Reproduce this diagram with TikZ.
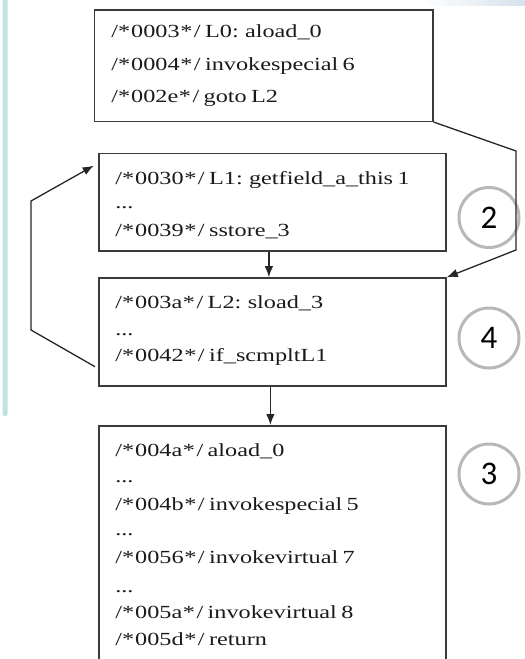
\documentclass[tikz,border=0pt]{standalone}
\usepackage{fontspec}
\setmainfont[WordSpace=0.72]{Liberation Serif}
\newfontfamily\numfont{Carlito}
\usetikzlibrary{arrows.meta,calc}
\definecolor{boxline}{HTML}{3A3A3A}
\definecolor{codetext}{HTML}{1A1A1A}
\definecolor{ringgray}{HTML}{B8B8B8}
\definecolor{sidebar}{HTML}{BFE2E6}
\definecolor{tint}{HTML}{D6E2EC}
% instruction address prefix, e.g. /*0003*/
\newcommand\addr[1]{/*\kern0.8pt#1\kern0.5pt*\kern1.2pt/}
\tikzset{
  block/.style={draw=boxline, line width=1.5pt, inner sep=0pt, anchor=north west, fill=white},
  codeline/.style={anchor=base west, inner sep=0pt, text=codetext, xscale=1.31,
                   font=\fontsize{18.5}{20}\selectfont},
  link/.style={draw=black!85, line width=1.3pt},
  flow/.style={link, -{Latex[length=11pt,width=8.5pt]}},
  badge/.style={circle, draw=ringgray, line width=3pt, minimum size=60pt, inner sep=0pt,
                font=\numfont\fontsize{33}{33}\selectfont, text=black}
}
\begin{document}
\begin{tikzpicture}[x=1pt,y=-1pt]
\clip (0,0) rectangle (525,659);
\fill[white] (0,0) rectangle (525,659);
% side bar and top tint
\fill[sidebar, rounded corners=2pt] (2.5,-6) rectangle (7.5,416);
\shade[left color=white, right color=tint] (420,0) rectangle (525,5);

% basic blocks
\node[block, minimum width=338.3pt, minimum height=111.5pt] (b0) at (93.7,9) {};
\node[block, minimum width=347.3pt, minimum height=97.7pt] (b1) at (98,152.7) {};
\node[block, minimum width=347.3pt, minimum height=108pt] (b2) at (98,277.2) {};
\node[block, minimum width=347.3pt, minimum height=290pt] (b3) at (98,425) {};

% block 0
\node[codeline] (t0a) at (111,37.5) {\addr{0003} L0: aload\_0};
\node[codeline] (t0b) at (111,70.5) {\addr{0004} invokespecial 6};
\node[codeline] (t0c) at (111,102.5) {\addr{002e} goto L2};
% block 1
\node[codeline] (t1a) at (115,184) {\addr{0030} L1: getfield\_a\_this 1};
\node[codeline] (t1b) at (115,208) {...};
\node[codeline] (t1c) at (115,236) {\addr{0039} sstore\_3};
% block 2
\node[codeline] (t2a) at (115,308) {\addr{003a} L2: sload\_3};
\node[codeline] (t2b) at (115,335) {...};
\node[codeline] (t2c) at (115,361.7) {\addr{0042} if\_scmpltL1};
% block 3
\node[codeline] (t3a) at (115,456.7) {\addr{004a} aload\_0};
\node[codeline] (t3b) at (115,482) {...};
\node[codeline] (t3c) at (115,510) {\addr{004b} invokespecial 5};
\node[codeline] (t3d) at (115,535.5) {...};
\node[codeline] (t3e) at (115,563.3) {\addr{0056} invokevirtual 7};
\node[codeline] (t3f) at (115,592) {...};
\node[codeline] (t3g) at (115,618.3) {\addr{005a} invokevirtual 8};
\node[codeline] (t3h) at (115,645) {\addr{005d} return};

% numbered markers
\node[badge] (c2) at (489,217.5) {2};
\node[badge] (c4) at (489,338) {4};
\node[badge] (c3) at (489,474) {3};

% control flow
\coordinate (r1) at (516,151);
\coordinate (r2) at (516,250);
\draw[flow] (b0.south east) -- (r1) -- (r2) -- (b2.north east);

\draw[flow] ([xshift=-3.5pt]b1.south) -- ([xshift=-3.5pt]b2.north);
\draw[flow] ([xshift=-2pt]b2.south) -- ([xshift=-2pt]b3.north);

\coordinate (l1) at (31,330);
\coordinate (l2) at (31,201);
\draw[flow] ([xshift=-3pt,yshift=20pt]b2.south west) -- (l1) -- (l2)
  -- ([xshift=-4.3pt,yshift=-13pt]b1.north west);
\end{tikzpicture}
\end{document}
